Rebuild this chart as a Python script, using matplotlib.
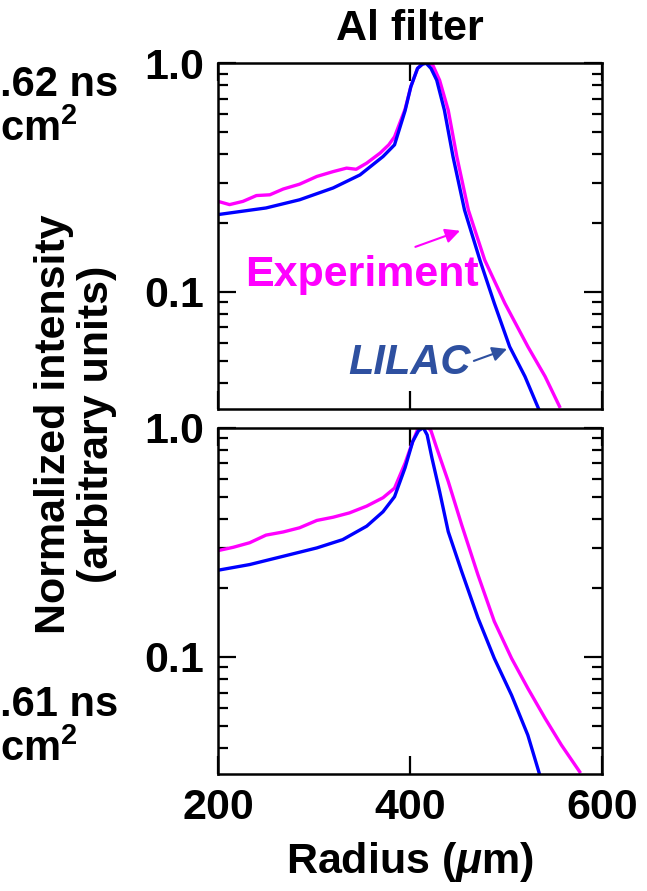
import numpy as np
import matplotlib
matplotlib.use('Agg')
import matplotlib.pyplot as plt
from matplotlib.ticker import FixedLocator, FixedFormatter, NullFormatter

plt.rcParams['font.family'] = ['Liberation Sans', 'DejaVu Sans']
plt.rcParams['font.weight'] = 'bold'
plt.rcParams['mathtext.fontset'] = 'custom'
plt.rcParams['mathtext.rm'] = 'Liberation Sans:bold'
plt.rcParams['mathtext.bf'] = 'Liberation Sans:bold'
plt.rcParams['mathtext.it'] = 'Liberation Sans:italic:bold'

# --- datos ---
# panel de arriba
r_lilac_a = [200, 250, 285, 320, 348, 372, 384, 395, 401, 408, 413, 417, 422, 428, 436, 445, 457, 473, 488, 504, 520, 534]
i_lilac_a = [0.218, 0.233, 0.253, 0.285, 0.325, 0.391, 0.44, 0.62, 0.79, 0.95, 0.99, 1.0, 0.95, 0.843, 0.623, 0.39, 0.228, 0.138, 0.0893, 0.0577, 0.0427, 0.031]
r_exp_a = [200, 212, 226, 240, 254, 268, 285, 303, 320, 334, 344, 355, 369, 378, 384, 395, 401, 408, 414, 419, 424, 431, 440, 449, 461, 478, 499, 523, 541, 556]
i_exp_a = [0.249, 0.241, 0.249, 0.264, 0.266, 0.282, 0.296, 0.32, 0.336, 0.348, 0.344, 0.366, 0.405, 0.44, 0.477, 0.63, 0.79, 0.95, 1.0, 1.0, 0.98, 0.843, 0.623, 0.39, 0.228, 0.138, 0.0893, 0.0577, 0.0427, 0.0316]
# panel de abajo
r_lilac_b = [200, 233, 268, 303, 330, 355, 372, 384, 395, 403, 409, 414, 418, 423, 431, 440, 454, 471, 488, 506, 523, 535]
i_lilac_b = [0.239, 0.253, 0.275, 0.299, 0.325, 0.372, 0.43, 0.50, 0.669, 0.871, 0.97, 1.0, 0.93, 0.738, 0.527, 0.352, 0.236, 0.148, 0.0987, 0.0682, 0.0456, 0.031]
r_exp_b = [200, 216, 233, 250, 268, 285, 303, 320, 337, 355, 372, 384, 395, 403, 408, 414, 419, 422, 428, 440, 454, 471, 488, 506, 523, 541, 558, 577]
i_exp_b = [0.291, 0.301, 0.315, 0.34, 0.351, 0.366, 0.394, 0.407, 0.425, 0.455, 0.495, 0.545, 0.70, 0.87, 0.98, 1.0, 1.0, 0.97, 0.815, 0.583, 0.377, 0.228, 0.143, 0.0987, 0.073, 0.054, 0.0413, 0.0316]

xticks = [200, 400, 600]
xlabels = ['200', '400', '600']
yticks = [0.1, 1.0]
ylabels = ['0.1', '1.0']
yminor = [0.04, 0.05, 0.06, 0.07, 0.08, 0.09, 0.2, 0.3, 0.4, 0.5, 0.6, 0.7, 0.8, 0.9]

MAG = '#FF00FF'
AZUL = '#0000FF'
AZUL2 = '#2E50A0'
FS = 31

fig = plt.figure(figsize=(6.47, 8.91), dpi=100)
ax1 = fig.add_axes([0.337, 0.541, 0.593, 0.388])
ax2 = fig.add_axes([0.337, 0.131, 0.593, 0.389])

for ax, rl, il, re, ie in [(ax1, r_lilac_a, i_lilac_a, r_exp_a, i_exp_a),
                           (ax2, r_lilac_b, i_lilac_b, r_exp_b, i_exp_b)]:
    ax.plot(re, ie, color=MAG, lw=2.4)
    ax.plot(rl, il, color=AZUL, lw=2.4)
    ax.set_yscale('log')
    ax.set_xlim(200, 600)
    ax.set_ylim(0.0308, 1.0)
    ax.yaxis.set_major_locator(FixedLocator(yticks))
    ax.yaxis.set_major_formatter(FixedFormatter(ylabels))
    ax.yaxis.set_minor_locator(FixedLocator(yminor))
    ax.yaxis.set_minor_formatter(NullFormatter())
    ax.xaxis.set_major_locator(FixedLocator(xticks))
    ax.xaxis.set_minor_locator(FixedLocator([]))
    ax.tick_params(which='both', direction='in', top=True, right=True, width=1.6)
    ax.tick_params(which='major', length=13, labelsize=FS, pad=10)
    ax.tick_params(which='minor', length=7)
    for s in ax.spines.values():
        s.set_linewidth(1.8)

ax1.tick_params(labelbottom=False)
ax2.xaxis.set_major_formatter(FixedFormatter(xlabels))

# flechas y etiquetas
ax1.annotate('', xy=(455, 0.187), xytext=(403, 0.156),
             arrowprops=dict(arrowstyle='-|>', color=MAG, lw=1.5, mutation_scale=22))
ax1.text(350, 0.106, 'Experiment', color=MAG, fontsize=FS, fontweight='bold', ha='center', va='baseline')
ax1.annotate('', xy=(504, 0.0569), xytext=(464, 0.0495),
             arrowprops=dict(arrowstyle='-|>', color=AZUL2, lw=1.5, mutation_scale=22))
ax1.text(400, 0.0438, 'LILAC', color=AZUL2, fontsize=30, fontweight='bold', style='italic', ha='center', va='baseline')

fig.text(0.634, 0.968, 'Al filter', fontsize=FS, fontweight='bold', ha='center', va='center')
fig.text(0.634, 0.033, r'Radius ($\mu$m)', fontsize=FS, fontweight='bold', ha='center', va='center')
fig.text(0.116, 0.524, 'Normalized intensity\n(arbitrary units)', fontsize=FS, fontweight='bold',
         rotation=90, ha='center', va='center', multialignment='center', linespacing=1.1)

# textos cortados a la izquierda
fig.text(0.0, 0.905, '.62 ns', fontsize=30, fontweight='bold', ha='left', va='center')
fig.text(0.0, 0.854, r'cm$^2$', fontsize=30, fontweight='bold', ha='left', va='center')
fig.text(0.0, 0.209, '.61 ns', fontsize=30, fontweight='bold', ha='left', va='center')
fig.text(0.0, 0.158, r'cm$^2$', fontsize=30, fontweight='bold', ha='left', va='center')

fig.savefig('out.png', dpi=100)
